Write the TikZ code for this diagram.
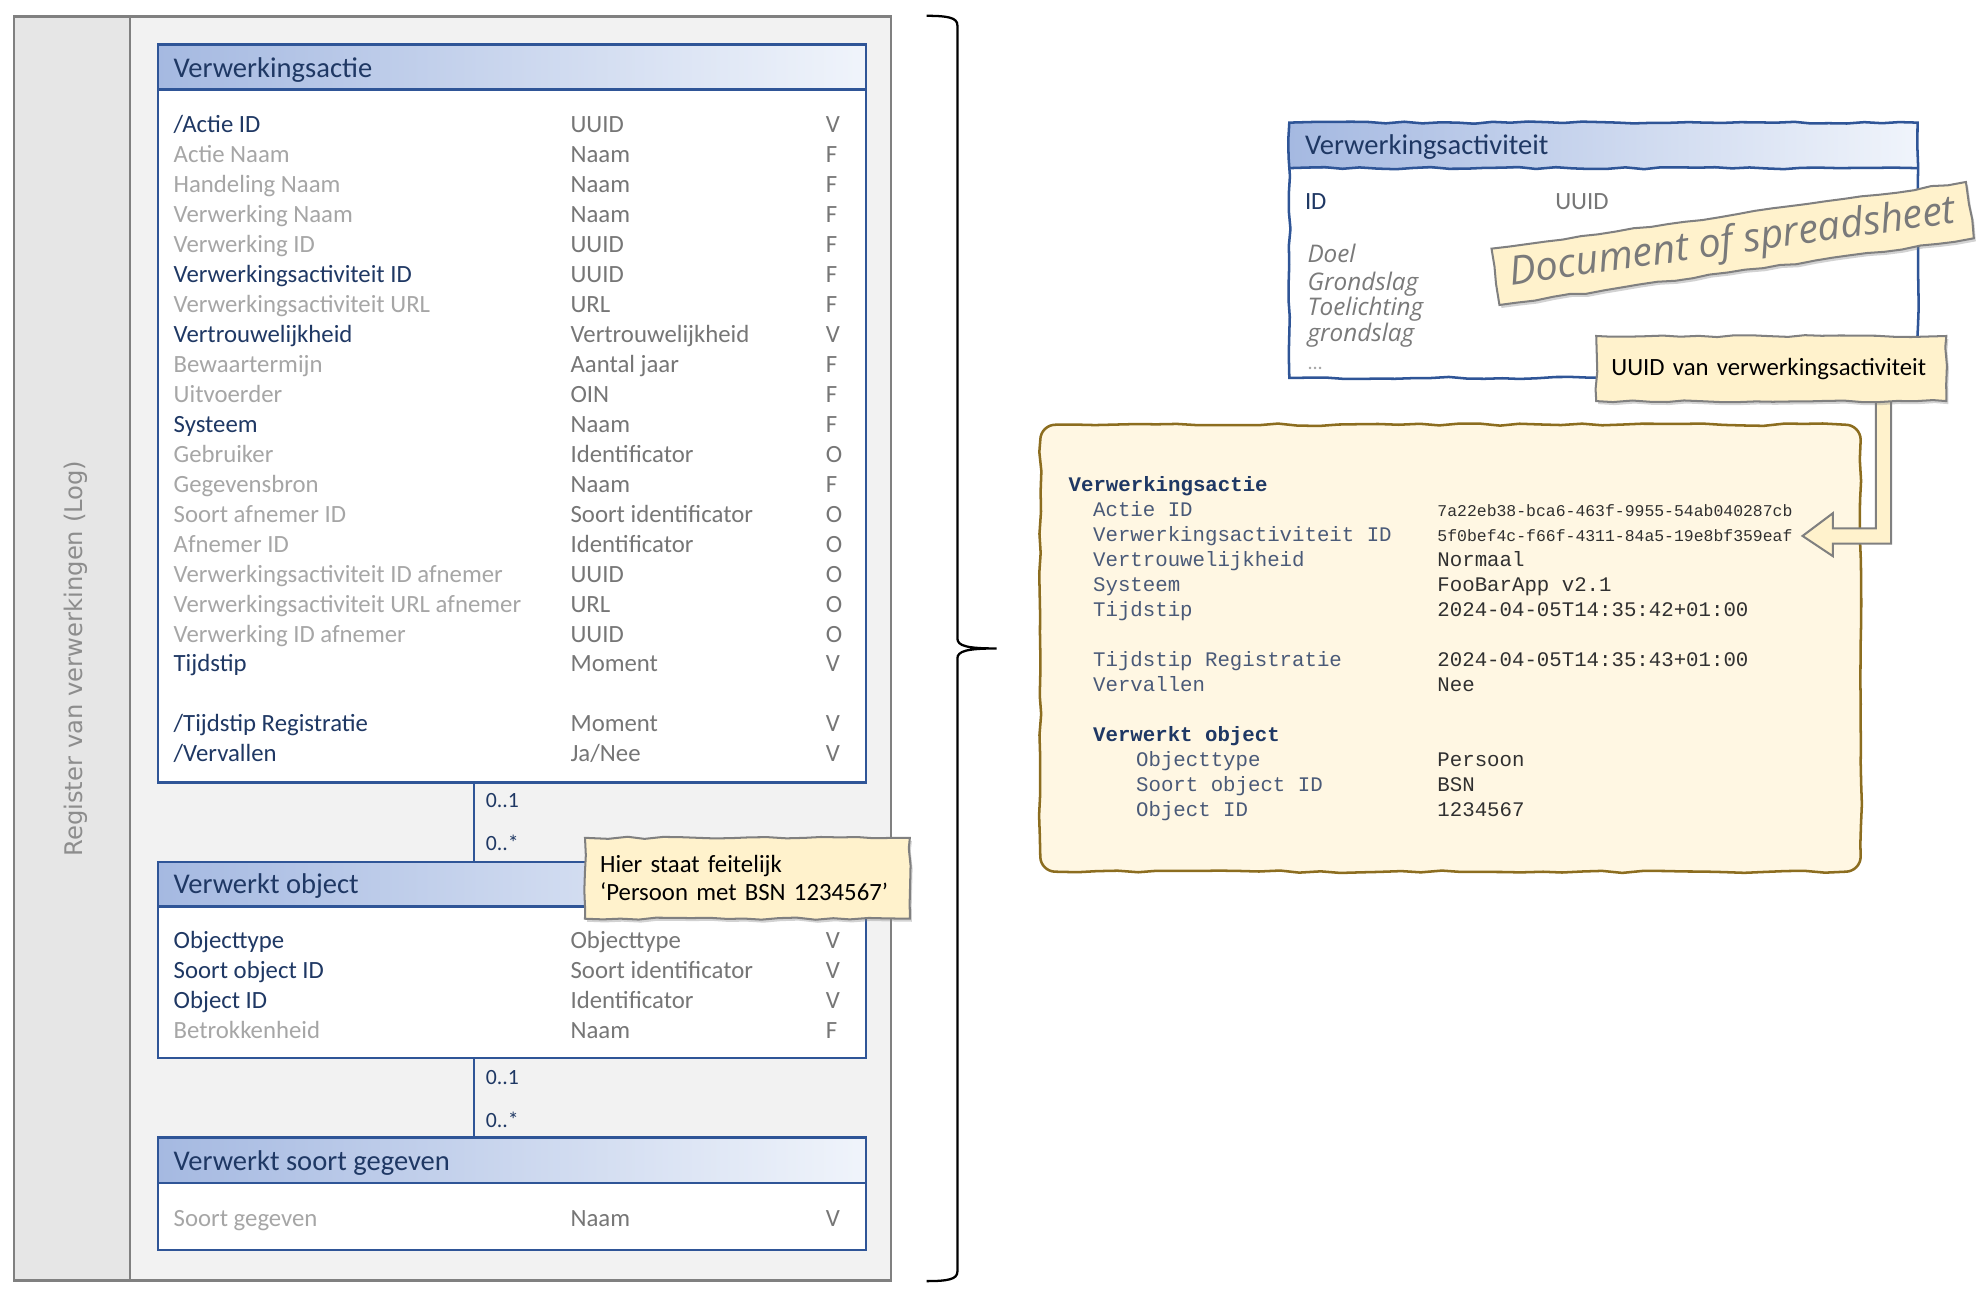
\documentclass[tikz,border=0pt]{standalone}
\usepackage{fontspec}
\setmainfont{Carlito}
\newfontfamily\monof{Liberation Mono}
\newfontfamily\vfont{DejaVu Sans}
\newfontfamily\handf{Open Sans}
\usetikzlibrary{decorations.pathmorphing,shadows,calc}
\definecolor{navy}{HTML}{1F3864}
\definecolor{boxblue}{HTML}{2F5597}
\definecolor{hdrL}{HTML}{A5B9E1}
\definecolor{hdrR}{HTML}{F0F4FB}
\definecolor{lgray}{HTML}{A6A6A6}
\definecolor{mgray}{HTML}{767676}
\definecolor{vgray}{HTML}{8D8D8D}
\definecolor{hgray}{HTML}{7A7A7A}
\definecolor{strip}{HTML}{E6E6E6}
\definecolor{panel}{HTML}{F2F2F2}
\definecolor{frame}{HTML}{808080}
\definecolor{note}{HTML}{FFF2CC}
\definecolor{codebg}{HTML}{FFF7E3}
\definecolor{codeframe}{HTML}{8C6D1F}
\definecolor{codelbl}{HTML}{4A5A78}
\definecolor{codeval}{HTML}{303030}
\newcommand\attrRow[6]{%
  \node[#3] (#1n) at (137,#2) {#4};
  \node[ty] (#1t) at (451,#2) {#5};
  \node[ty] (#1f) at (653,#2) {#6};}
\newcommand\codeRow[5]{%
  \node[clbl] (#1l) at (#2,#3) {#4};
  \node[cval] (#1v) at (1136.8,#3) {#5};}
\begin{document}
\begin{tikzpicture}[x=0.5pt,y=-0.5pt,
  entbox/.style={fill=white,inner sep=0pt,outer sep=0pt,anchor=north west},
  entline/.style={draw=boxblue,line width=1pt},
  hdrshade/.style={left color=hdrL,right color=hdrR},
  hdr/.style={anchor=base west,inner sep=0pt,text=navy,font=\fontsize{11.3}{13}\selectfont},
  dk/.style={anchor=base west,inner sep=0pt,text=navy,font=\fontsize{9.8}{11}\selectfont},
  lt/.style={dk,text=lgray},
  ty/.style={dk,text=mgray},
  mult/.style={anchor=base west,inner sep=0pt,text=navy,font=\fontsize{8.6}{10}\selectfont},
  link/.style={draw=boxblue,line width=0.9pt},
  sketch/.style={decorate,decoration={random steps,segment length=7pt,amplitude=0.45pt}},
  notebox/.style={sketch,draw=frame,fill=note,line width=0.8pt,
    drop shadow={shadow xshift=0.8pt,shadow yshift=-1.2pt,opacity=0.35}},
  hand/.style={anchor=base west,inner sep=0pt,text=hgray,font=\handf\itshape\fontsize{9.6}{11}\selectfont},
  ctitle/.style={anchor=base west,inner sep=0pt,text=navy,font=\monof\bfseries\fontsize{8.2}{10}\selectfont},
  clbl/.style={anchor=base west,inner sep=0pt,text=codelbl,font=\monof\fontsize{8.2}{10}\selectfont},
  cval/.style={anchor=base west,inner sep=0pt,text=codeval,font=\monof\fontsize{8.2}{10}\selectfont},
  codeframe/.style={draw=codeframe,fill=codebg,line width=1pt,
    decoration={random steps,segment length=8pt,amplitude=0.5pt}},
  blockarrow/.style={draw=frame,fill=note,line width=0.8pt,line join=miter}]
\pgfmathsetseed{42}
\useasboundingbox (0,0) rectangle (1568,1025);

% ---------- left panel ----------
\fill[strip] (11,13) rectangle (103,1013);
\fill[panel] (103,13) rectangle (705,1013);
\draw[frame,line width=0.9pt] (11,13) rectangle (705,1013) (103,13) -- (103,1013);
\node[rotate=90,anchor=base,inner sep=0pt,text=vgray,font=\vfont\fontsize{9.6}{11}\selectfont] (reglbl) at (65.4,521) {Register van verwerkingen (Log)};

% ---------- entity 1 ----------
\node[entbox,minimum width=280pt,minimum height=292pt] (e1) at (125,35) {};
\shade[hdrshade] (e1.north west) rectangle ($(e1.north east)+(0,36)$);
\draw[entline] (e1.north west) rectangle (e1.south east);
\draw[entline] ($(e1.north west)+(0,36)$) -- ($(e1.north east)+(0,36)$);
\node[hdr] (e1title) at (137,61) {Verwerkingsactie};
\attrRow{r1}{105}{dk}{/Actie ID}{UUID}{V}
\attrRow{r2}{128.7}{lt}{Actie Naam}{Naam}{F}
\attrRow{r3}{152.4}{lt}{Handeling Naam}{Naam}{F}
\attrRow{r4}{176.1}{lt}{Verwerking Naam}{Naam}{F}
\attrRow{r5}{199.8}{lt}{Verwerking ID}{UUID}{F}
\attrRow{r6}{223.5}{dk}{Verwerkingsactiviteit ID}{UUID}{F}
\attrRow{r7}{247.2}{lt}{Verwerkingsactiviteit URL}{URL}{F}
\attrRow{r8}{270.9}{dk}{Vertrouwelijkheid}{Vertrouwelijkheid}{V}
\attrRow{r9}{294.6}{lt}{Bewaartermijn}{Aantal jaar}{F}
\attrRow{r10}{318.3}{lt}{Uitvoerder}{OIN}{F}
\attrRow{r11}{342}{dk}{Systeem}{Naam}{F}
\attrRow{r12}{365.7}{lt}{Gebruiker}{Identificator}{O}
\attrRow{r13}{389.4}{lt}{Gegevensbron}{Naam}{F}
\attrRow{r14}{413.1}{lt}{Soort afnemer ID}{Soort identificator}{O}
\attrRow{r15}{436.8}{lt}{Afnemer ID}{Identificator}{O}
\attrRow{r16}{460.5}{lt}{Verwerkingsactiviteit ID afnemer}{UUID}{O}
\attrRow{r17}{484.2}{lt}{Verwerkingsactiviteit URL afnemer}{URL}{O}
\attrRow{r18}{507.9}{lt}{Verwerking ID afnemer}{UUID}{O}
\attrRow{r19}{531.6}{dk}{Tijdstip}{Moment}{V}
\attrRow{r20}{579}{dk}{/Tijdstip Registratie}{Moment}{V}
\attrRow{r21}{602.7}{dk}{/Vervallen}{Ja/Nee}{V}

% ---------- entity 2 ----------
\node[entbox,minimum width=280pt,minimum height=77.5pt] (e2) at (125,682) {};
\shade[hdrshade] (e2.north west) rectangle ($(e2.north east)+(0,35)$);
\draw[entline] (e2.north west) rectangle (e2.south east);
\draw[entline] ($(e2.north west)+(0,35)$) -- ($(e2.north east)+(0,35)$);
\node[hdr] (e2title) at (137,707) {Verwerkt object};
\attrRow{s1}{750.3}{dk}{Objecttype}{Objecttype}{V}
\attrRow{s2}{774}{dk}{Soort object ID}{Soort identificator}{V}
\attrRow{s3}{797.7}{dk}{Object ID}{Identificator}{V}
\attrRow{s4}{821.5}{lt}{Betrokkenheid}{Naam}{F}

% ---------- entity 3 ----------
\node[entbox,minimum width=280pt,minimum height=44.5pt] (e3) at (125,900) {};
\shade[hdrshade] (e3.north west) rectangle ($(e3.north east)+(0,36)$);
\draw[entline] (e3.north west) rectangle (e3.south east);
\draw[entline] ($(e3.north west)+(0,36)$) -- ($(e3.north east)+(0,36)$);
\node[hdr] (e3title) at (137,926) {Verwerkt soort gegeven};
\attrRow{g1}{970}{lt}{Soort gegeven}{Naam}{V}

% ---------- associations ----------
\coordinate (cx) at (375,0);
\draw[link] (e1.south -| cx) -- (e2.north -| cx);
\draw[link] (e2.south -| cx) -- (e3.north -| cx);
\node[mult] (m1) at (384,639) {0..1};
\node[mult] (m2) at (384,673) {0..*};
\node[mult] (m3) at (384,857.6) {0..1};
\node[mult] (m4) at (384,892) {0..*};

% ---------- note ----------
\node[notebox,anchor=north west,minimum width=128.5pt,minimum height=32pt,inner xsep=6pt,inner ysep=0pt,
  text width=116.5pt,align=left,text=black,font=\fontsize{9.8}{11.2}\selectfont] (note1) at (462,662)
  {Hier staat feitelijk\\‘Persoon met BSN 1234567’};

% ---------- brace ----------
\draw[line width=0.9pt] (733,12.5) .. controls (750,12.5) and (757.4,14) .. (757.4,20) -- (757.4,505)
  .. controls (757.4,511) and (765,513) .. (788.5,513) .. controls (765,513) and (757.4,515) .. (757.4,521)
  -- (757.4,1006) .. controls (757.4,1012) and (750,1013.5) .. (733,1013.5);

% ---------- Verwerkingsactiviteit (sketch) ----------
\node[entbox,minimum width=248.5pt,minimum height=101pt] (vact) at (1020,97) {};
\shade[hdrshade] (vact.north west) rectangle ($(vact.north east)+(0,36)$);
\draw[entline,sketch] (vact.north west) rectangle (vact.south east);
\draw[entline,sketch] ($(vact.north west)+(0,36)$) -- ($(vact.north east)+(0,36)$);
\node[hdr] (vtitle) at (1032,122.6) {Verwerkingsactiviteit};
\node[dk] (vid) at (1032,166) {ID};
\node[ty] (vidt) at (1230,166) {UUID};
\node[hand] (h1) at (1034,208) {Doel};
\node[hand] (h2) at (1034,229.5) {Grondslag};
\node[hand] (h3) at (1034,249.5) {Toelichting};
\node[hand] (h4) at (1034,270.5) {grondslag};
\node[anchor=base west,inner sep=0pt,text=lgray,font=\fontsize{8}{9}\selectfont] (h5) at (1034,292.7) {...};

\node[notebox,rotate=8,minimum width=189.5pt,minimum height=22.5pt,inner sep=0pt,text=hgray,
  font=\handf\itshape\fontsize{14.5}{17}\selectfont] (banner) at (1370.75,192.6)
  {\raisebox{-3pt}{\resizebox{178pt}{!}{Document of spreadsheet}}};

% ---------- code box (rounded, sketchy sides) ----------
\path[codeframe] (835,336) decorate {-- (1460,336)} arc[start angle=-90,end angle=0,radius=12]
  decorate {-- (1472,677.6)} arc[start angle=0,end angle=90,radius=12]
  decorate {-- (835,689.6)} arc[start angle=90,end angle=180,radius=12]
  decorate {-- (823,348)} arc[start angle=180,end angle=270,radius=12] -- cycle;
\coordinate (code) at (1147.5,512.8);
\node[ctitle] (ct1) at (845,389) {Verwerkingsactie};
\codeRow{c1}{864.4}{408.8}{Actie ID}{\fontsize{6.5}{8}\selectfont 7a22eb38-bca6-463f-9955-54ab040287cb}
\codeRow{c2}{864.4}{428.5}{Verwerkingsactiviteit ID}{\fontsize{6.5}{8}\selectfont 5f0bef4c-f66f-4311-84a5-19e8bf359eaf}
\codeRow{c3}{864.4}{448.3}{Vertrouwelijkheid}{Normaal}
\codeRow{c4}{864.4}{468}{Systeem}{FooBarApp v2.1}
\codeRow{c5}{864.4}{487.9}{Tijdstip}{2024-04-05T14:35:42+01:00}
\codeRow{c6}{864.4}{527.4}{Tijdstip Registratie}{2024-04-05T14:35:43+01:00}
\codeRow{c7}{864.4}{547.2}{Vervallen}{Nee}
\node[ctitle] (ct2) at (864.4,586.8) {Verwerkt object};
\codeRow{c8}{898.4}{606.5}{Objecttype}{Persoon}
\codeRow{c9}{898.4}{626.3}{Soort object ID}{BSN}
\codeRow{c10}{898.4}{646.1}{Object ID}{1234567}

% ---------- block arrow + UUID callout ----------
\coordinate (atip) at (1426,424);
\coordinate (sh1) at ($(atip)+(58,-6)$);
\coordinate (sh2) at ($(atip)+(70,6)$);
\coordinate (utop) at (0,312);
\draw[blockarrow] (atip) -- ++(24,-18) -- ++(0,12) -- (sh1) -- (sh1 |- utop) -- (sh2 |- utop)
  -- (sh2) -- ++(-46,0) -- ++(0,10) -- cycle;
\node[notebox,anchor=north west,minimum width=138.5pt,minimum height=25.75pt,inner xsep=6pt,inner ysep=0pt,
  text width=126.5pt,align=left,text=black,font=\fontsize{9.8}{11}\selectfont] (uuidnote) at (1262,265)
  {UUID van verwerkingsactiviteit};
\end{tikzpicture}
\end{document}
